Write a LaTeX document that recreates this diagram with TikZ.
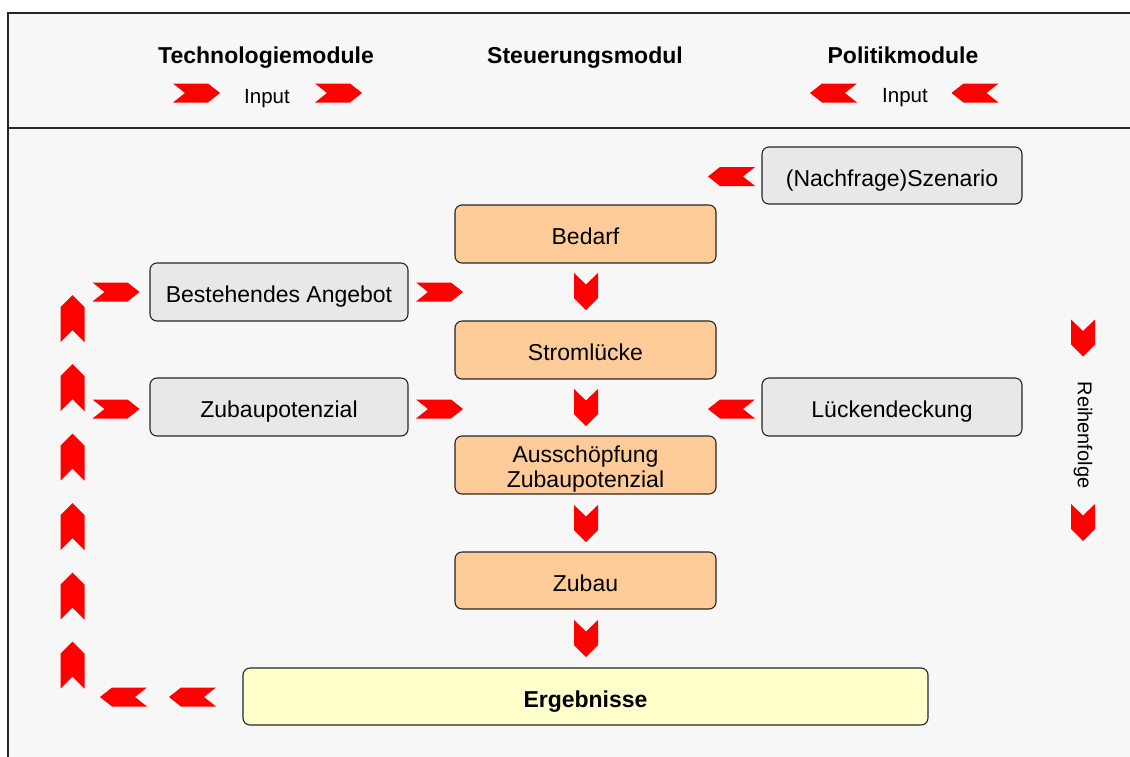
\documentclass[tikz,border=0pt]{standalone}
\usepackage{fontspec}
\setmainfont{Liberation Sans}
\definecolor{bgframe}{HTML}{F7F7F7}
\definecolor{boxgray}{HTML}{E8E8E8}
\definecolor{boxorange}{HTML}{FFCC99}
\definecolor{boxyellow}{HTML}{FFFFCC}
\definecolor{chevred}{HTML}{FF0000}
\tikzset{
  basebox/.style={draw=black!85, line width=1.1pt, rounded corners=7pt, inner sep=0pt, align=center,
    text height=21pt, text depth=0pt, font=\fontsize{23}{25}\selectfont},
  graybox/.style={basebox, fill=boxgray, minimum width=259pt, minimum height=57pt},
  orangebox/.style={basebox, fill=boxorange, minimum width=261pt, minimum height=58pt},
  resultbox/.style={basebox, fill=boxyellow, minimum width=685pt, minimum height=57pt, font=\fontsize{23}{25}\selectfont\bfseries},
  boxtext/.style={font=\fontsize{23}{25}\selectfont, inner sep=0pt, anchor=base},
  headtext/.style={font=\fontsize{23}{25}\selectfont\bfseries, inner sep=0pt, anchor=base},
  smalltext/.style={font=\fontsize{20.5}{24}\selectfont, inner sep=0pt},
  chevR/.pic={\fill[chevred] (-23.5,-9.5) -- (11.5,-9.5) -- (23.5,0) -- (11.5,9.5) -- (-23.5,9.5) -- (-11.5,0) -- cycle;},
  chevL/.pic={\fill[chevred] (23.5,-9.5) -- (-11.5,-9.5) -- (-23.5,0) -- (-11.5,9.5) -- (23.5,9.5) -- (11.5,0) -- cycle;},
  chevD/.pic={\fill[chevred] (-12,-18.5) -- (0,-7) -- (12,-18.5) -- (12,6.5) -- (0,18.5) -- (-12,6.5) -- cycle;},
  chevU/.pic={\fill[chevred] (0,-23.5) -- (12,-11.5) -- (12,23.5) -- (0,11.5) -- (-12,23.5) -- (-12,-11.5) -- cycle;}
}
\begin{document}
\begin{tikzpicture}[x=1pt,y=-1pt]
\useasboundingbox (0,0) rectangle (1130,756);
\fill[white] (0,0) rectangle (1130,756);
\filldraw[fill=bgframe, draw=black!85, line width=1.4pt] (8,13) rectangle (1140,766);
\draw[black!85, line width=1.4pt] (8,128) -- (1140,128);

% header
\node[headtext] (hTech) at (266,63) {Technologiemodule};
\node[headtext] (hSteu) at (585,63) {Steuerungsmodul};
\node[headtext] (hPol) at (903,63) {Politikmodule};
\node[smalltext, anchor=base] (inTech) at (267,103) {Input};
\node[smalltext, anchor=base] (inPol) at (905,102) {Input};
\pic at (196.5,93) {chevR};
\pic at (338.5,93) {chevR};
\pic at (833.5,93) {chevL};
\pic at (975,93) {chevL};

% boxes
\node[graybox, minimum width=260pt] (szen) at (892,175.5) {(Nachfrage)Szenario};
\node[orangebox] (bedarf) at (585.5,234) {Bedarf};
\node[graybox, minimum width=258pt, minimum height=58pt] (best) at (279,292) {Bestehendes Angebot};
\node[orangebox] (strom) at (585.5,350) {Stroml\"ucke};
\node[graybox, minimum width=258pt, minimum height=58pt] (zpot) at (279,407) {Zubaupotenzial};
\node[graybox, minimum width=260pt, minimum height=58pt] (lueck) at (892,407) {L\"uckendeckung};
\node[orangebox] (aussch) at (585.5,465) {};
\node[boxtext] (ausschA) at (585.5,462) {Aussch\"opfung};
\node[boxtext] (ausschB) at (585.5,487) {Zubaupotenzial};
\node[orangebox, minimum height=57pt] (zubau) at (585.5,580.5) {Zubau};
\node[resultbox] (erg) at (585.5,696.5) {Ergebnisse};

% chevrons
\pic at (731.5,176.5) {chevL};
\pic at (586,291.5) {chevD};
\pic at (586,407.5) {chevD};
\pic at (586,523.5) {chevD};
\pic at (586,638.5) {chevD};
\pic at (116,292) {chevR};
\pic at (439.5,292) {chevR};
\pic at (116,409) {chevR};
\pic at (439.5,409) {chevR};
\pic at (731.5,409) {chevL};
\foreach \yy in {318.5,387.5,457,526.5,596,665} {\pic at (72.5,\yy) {chevU};}
\pic at (123.5,697) {chevL};
\pic at (192.5,697) {chevL};

% Reihenfolge
\pic at (1083,338) {chevD};
\pic at (1083,522.5) {chevD};
\node[smalltext, font=\fontsize{20}{24}\selectfont, rotate=-90] (reihe) at (1083,435) {Reihenfolge};
\end{tikzpicture}
\end{document}
